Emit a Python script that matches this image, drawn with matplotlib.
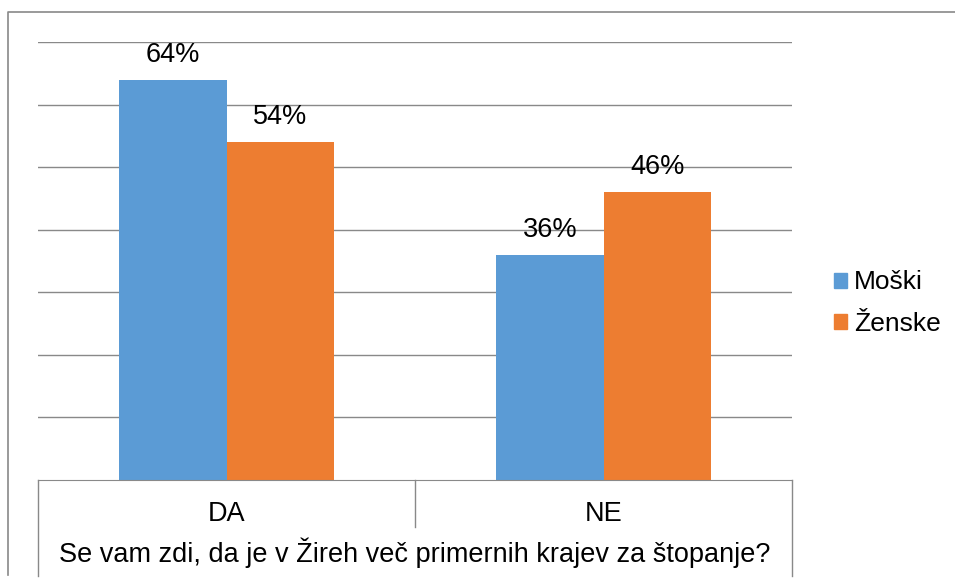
import matplotlib.pyplot as plt
import numpy as np
from matplotlib.lines import Line2D
from matplotlib.patches import Patch

categories = ["DA", "NE"]
series_names = ["Moški", "Ženske"]
moski = [64, 36]
zenske = [54, 46]
title = "Se vam zdi, da je v Žireh več primernih krajev za štopanje?"

BLUE = "#5B9BD5"
ORANGE = "#ED7D31"
GRID = "#898989"
FS = 19.5

plt.rcParams["font.family"] = ["Liberation Sans", "DejaVu Sans"]

W, H = 955, 581
fig = plt.figure(figsize=(W / 100, H / 100), dpi=100)

# axes box in pixel terms: x 38..792, baseline y=480, 70% at y=42
ax = fig.add_axes([38 / W, 1 - 480 / H, (792 - 38) / W, (480 - 42) / H])

x = np.arange(len(categories))
width = 0.285
b1 = ax.bar(x - width / 2, moski, width, color=BLUE, label=series_names[0])
b2 = ax.bar(x + width / 2, zenske, width, color=ORANGE, label=series_names[1])

for bars, vals in [(b1, moski), (b2, zenske)]:
    for b, v in zip(bars, vals):
        ax.text(b.get_x() + b.get_width() / 2, v + 4.0, "%d%%" % v,
                ha="center", va="center", fontsize=FS)

ax.set_xlim(-0.5, 1.5)
ax.set_ylim(0, 70)
ax.set_yticks(np.arange(10, 71, 10))
ax.yaxis.grid(True, color=GRID, linewidth=1)
ax.set_axisbelow(True)
ax.tick_params(left=False, bottom=False, labelleft=False, labelbottom=False)
for s in ["left", "right", "top"]:
    ax.spines[s].set_visible(False)
ax.spines["bottom"].set_color(GRID)

# category boxes below the baseline
tr = ax.get_xaxis_transform()
def ay(py):
    return (480 - py) / (480 - 42)

ax.add_line(Line2D([-0.5, -0.5], [0, ay(576)], transform=tr, color=GRID, lw=1, clip_on=False))
ax.add_line(Line2D([1.5, 1.5], [0, ay(576)], transform=tr, color=GRID, lw=1, clip_on=False))
ax.add_line(Line2D([0.5, 0.5], [0, ay(527)], transform=tr, color=GRID, lw=1, clip_on=False))
for i, c in enumerate(categories):
    ax.text(i, ay(514), c, transform=tr, ha="center", va="center", fontsize=FS)
ax.text(0.5, ay(553), title, transform=tr, ha="center", va="center", fontsize=FS)

# outer chart frame
fig.add_artist(Line2D([7.5 / W, 7.5 / W, 1], [1 - 575 / H, 1 - 12 / H, 1 - 12 / H],
                      transform=fig.transFigure, color=GRID, lw=1.2))

handles = [Patch(color=BLUE), Patch(color=ORANGE)]
fig.legend(handles, series_names, loc="center left", bbox_to_anchor=(821 / W, 1 - 303 / H),
           frameon=False, fontsize=19, handlelength=0.5, handleheight=0.5,
           handletextpad=0.25, labelspacing=0.65, borderpad=0)

fig.savefig("out.png", dpi=100)
